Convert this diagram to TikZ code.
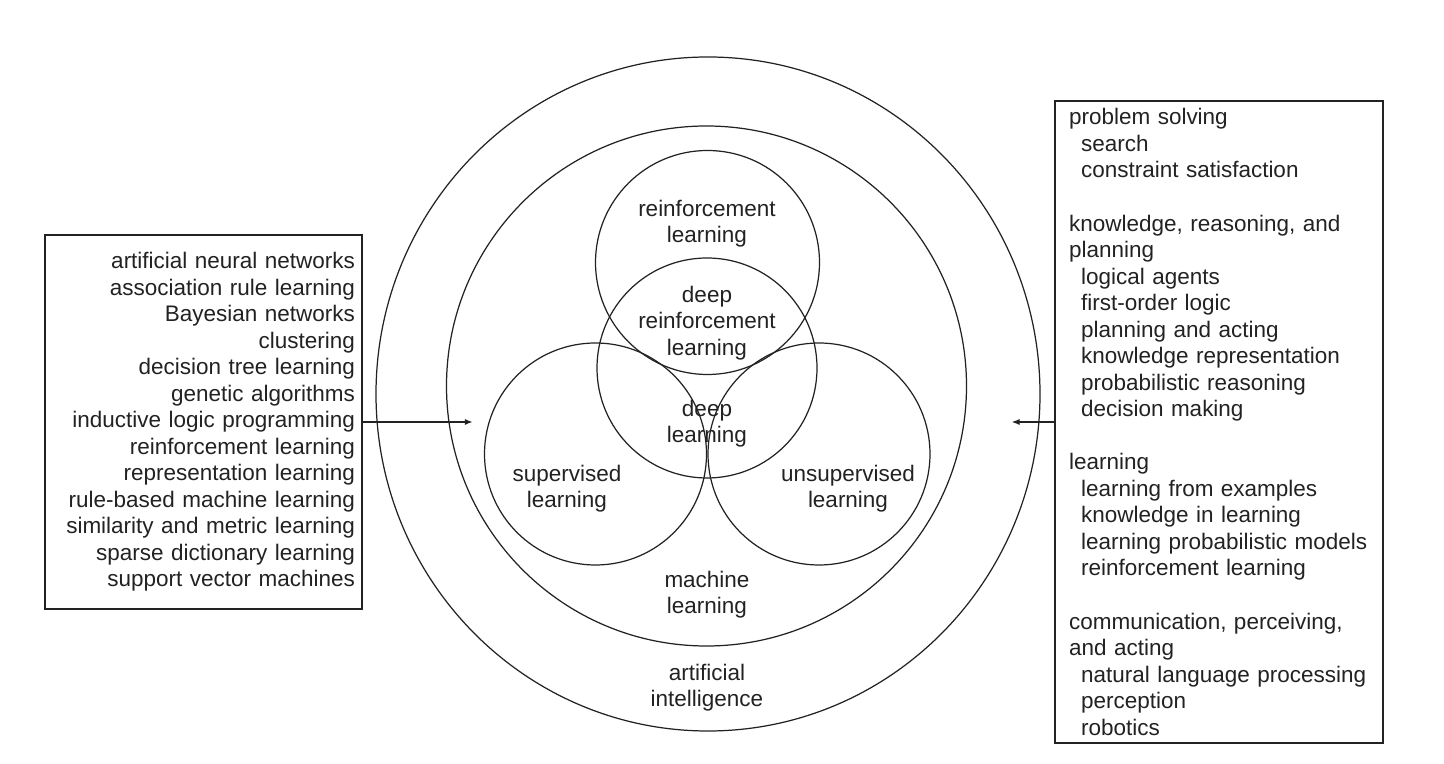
\documentclass[tikz,border=0pt]{standalone}
\usepackage{fontspec}
\setmainfont{Liberation Sans}
\usetikzlibrary{arrows.meta}
\definecolor{inkc}{HTML}{222222}
\tikzset{
  txt/.style={font=\fontsize{12.8}{15.1}\selectfont, text=inkc, align=center, inner sep=0pt},
  listbox/.style={draw=inkc, line width=0.7pt, rectangle, font=\fontsize{12.8}{15.1}\selectfont, text=inkc},
  ring/.style={draw=inkc, line width=0.7pt},
  tip/.style={draw=inkc, line width=0.7pt, -{Latex[length=4.5pt,width=3.5pt]}}
}
\newcommand{\ind}{\hspace*{0.24cm}}
\begin{document}
\begin{tikzpicture}[x=0.02cm, y=0.02cm]
        \useasboundingbox (0,0) rectangle (1444,764);
        % Circles
        \draw[ring] (708,370) ellipse[x radius=332, y radius=337];
        \draw[ring] (706.5,378) circle[radius=260];
        \draw[ring] (707.5,501.5) circle[radius=112];
        \draw[ring] (707,396) circle[radius=110];
        \draw[ring] (595.5,310) circle[radius=111];
        \draw[ring] (819,310) circle[radius=111];

        % Labels
        \node[txt] (rl) at (707,540.5) {reinforcement\\learning};
        \node[txt] (drl) at (707,441) {deep\\reinforcement\\learning};
        \node[txt] (dl) at (707,340.5) {deep\\learning};
        \node[txt] (sl) at (567,275.5) {supervised\\learning};
        \node[txt] (ul) at (848,275.5) {unsupervised\\learning};
        \node[txt] (ml) at (707,169.5) {machine\\learning};
        \node[txt] (ai) at (707,76.5) {artificial\\intelligence};

        % Topic boxes
        \node[listbox, align=right, text width=6.06cm, inner xsep=0.14cm,
              minimum width=6.34cm, minimum height=7.48cm] (mltopics) at (203.5,342)
        {artificial neural networks\\association rule learning\\Bayesian networks\\clustering\\
         decision tree learning\\genetic algorithms\\inductive logic programming\\
         reinforcement learning\\representation learning\\rule-based machine learning\\
         similarity and metric learning\\sparse dictionary learning\\support vector machines};
        \node[listbox, align=left, text width=6.0cm, inner xsep=0.28cm,
              minimum width=6.56cm, minimum height=12.84cm] (aitopics) at (1219,342)
        {problem solving\\\ind search\\\ind constraint satisfaction\\[15.1pt]
         knowledge, reasoning, and\\planning\\\ind logical agents\\\ind first-order logic\\
         \ind planning and acting\\\ind knowledge representation\\\ind probabilistic reasoning\\
         \ind decision making\\[15.1pt]
         learning\\\ind learning from examples\\\ind knowledge in learning\\
         \ind learning probabilistic models\\\ind reinforcement learning\\[15.1pt]
         communication, perceiving,\\and acting\\\ind natural language processing\\
         \ind perception\\\ind robotics};

        % Arrows
        \coordinate (mltip) at (472.7,342);
        \coordinate (aitip) at (1011.7,342);
        \draw[tip] (mltopics.east) -- (mltip);
        \draw[tip] (aitopics.west) -- (aitip);
    \end{tikzpicture}
\end{document}
